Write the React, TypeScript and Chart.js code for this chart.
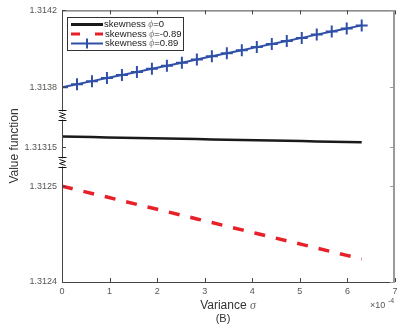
import React, { useEffect, useRef } from "react";
import { Chart, registerables } from "chart.js";

Chart.register(...registerables);

// Variance sigma (x 10^-4)
const X_VALUES = [0, 0.315, 0.63, 0.945, 1.26, 1.575, 1.89, 2.205, 2.52, 2.835, 3.15, 3.465, 3.78, 4.095, 4.41, 4.725, 5.04, 5.355, 5.67, 5.985, 6.3];

const SKEW_ZERO = [1.3131607, 1.3131604, 1.3131601, 1.3131598, 1.3131595, 1.3131593, 1.313159, 1.3131587, 1.3131584, 1.3131581, 1.3131578, 1.3131575, 1.3131572, 1.3131569, 1.3131566, 1.3131564, 1.3131561, 1.3131558, 1.3131555, 1.3131552, 1.313155];
const SKEW_NEG = [1.3125, 1.3124962, 1.3124924, 1.3124886, 1.3124848, 1.312481, 1.3124772, 1.3124734, 1.3124696, 1.3124658, 1.312462, 1.3124582, 1.3124544, 1.3124506, 1.3124468, 1.312443, 1.3124392, 1.3124354, 1.3124316, 1.3124278, 1.312424];
const SKEW_POS = [1.3138, 1.313816, 1.313832, 1.313848, 1.313864, 1.31388, 1.313896, 1.313912, 1.313928, 1.313945, 1.313961, 1.313977, 1.313993, 1.314009, 1.314025, 1.314041, 1.314057, 1.314074, 1.31409, 1.314106, 1.314122];

const Y_TICK_VALUES = [1.3124, 1.3125, 1.31315, 1.3138, 1.3142];
const Y_TICK_LABELS = ["1.3124", "1.3125", "1.31315", "1.3138", "1.3142"];
const X_TICKS = [0, 1, 2, 3, 4, 5, 6, 7];

// broken axis: piecewise mapping of value -> display units
function toDisplay(v: number): number {
  if (v >= 1.3137) return 195 + ((v - 1.3138) / 0.0004) * 77;
  if (v >= 1.3131) return 135 + ((v - 1.31315) / 0.00001) * 10;
  return ((v - 1.3124) / 0.0001) * 96;
}
const BREAKS = [120, 167];

const LEGEND = [
  { label: "=0", color: "#1a1a1a", kind: "solid" },
  { label: "=-0.89", color: "#e8202a", kind: "dash" },
  { label: "=0.89", color: "#3050a8", kind: "cross" },
];

const areaPlugin = {
  id: "area",
  afterLayout(chart: any) {
    const target = chart.width - 2;
    const xs = chart.scales.x;
    if (Math.abs(xs.right - target) > 0.1) {
      xs.right = target;
      xs.width = target - xs.left;
      xs.configure();
      chart.chartArea.right = target;
      chart.chartArea.width = target - chart.chartArea.left;
    }
  },
};

const decoPlugin = {
  id: "deco",
  afterDraw(chart: any) {
    const ctx = chart.ctx;
    const a = chart.chartArea;
    const xs = chart.scales.x;
    const ys = chart.scales.y;
    ctx.save();
    // box
    ctx.lineWidth = 1;
    ctx.strokeStyle = "#444";
    ctx.beginPath();
    ctx.moveTo(a.left + 0.5, a.bottom + 0.5);
    ctx.lineTo(a.left + 0.5, a.top + 0.5);
    ctx.lineTo(a.right, a.top + 0.5);
    ctx.moveTo(a.left, a.bottom + 0.5);
    ctx.lineTo(a.right, a.bottom + 0.5);
    ctx.stroke();
    ctx.strokeStyle = "#9a9a9a";
    ctx.lineWidth = 2;
    ctx.beginPath();
    ctx.moveTo(a.right - 1, a.top);
    ctx.lineTo(a.right - 1, a.bottom + 1);
    ctx.stroke();
    // ticks inward
    ctx.lineWidth = 1;
    ctx.strokeStyle = "#444";
    ctx.beginPath();
    X_TICKS.forEach((t) => {
      const px = Math.round(xs.getPixelForValue(t)) + 0.5;
      ctx.moveTo(px, a.bottom);
      ctx.lineTo(px, a.bottom - 4);
      ctx.moveTo(px, a.top);
      ctx.lineTo(px, a.top + 4);
    });
    Y_TICK_VALUES.forEach((v) => {
      const py = Math.round(ys.getPixelForValue(toDisplay(v))) + 0.5;
      ctx.moveTo(a.left, py);
      ctx.lineTo(a.left + 4, py);
    });
    ctx.stroke();
    ctx.strokeStyle = "#9a9a9a";
    ctx.beginPath();
    Y_TICK_VALUES.forEach((v) => {
      const py = Math.round(ys.getPixelForValue(toDisplay(v))) + 0.5;
      ctx.moveTo(a.right - 1, py);
      ctx.lineTo(a.right - 5, py);
    });
    ctx.stroke();
    // axis breaks
    ctx.strokeStyle = "#111";
    ctx.lineWidth = 1;
    BREAKS.forEach((d) => {
      const y = Math.round(ys.getPixelForValue(d)) + 0.5;
      const x = a.left + 0.5;
      ctx.fillStyle = "#fff";
      ctx.fillRect(x - 5, y - 4, 10, 8);
      ctx.beginPath();
      ctx.moveTo(x - 4, y - 5);
      ctx.lineTo(x + 4, y - 5);
      ctx.moveTo(x - 3, y - 3);
      ctx.lineTo(x + 3, y - 1);
      ctx.lineTo(x - 3, y + 1);
      ctx.lineTo(x + 3, y + 3);
      ctx.moveTo(x - 4, y + 5);
      ctx.lineTo(x + 4, y + 5);
      ctx.stroke();
    });
    // legend
    const lx = 67.5, ly = 17.5, lw = 116, lh = 33;
    ctx.fillStyle = "#fff";
    ctx.fillRect(lx, ly, lw, lh);
    ctx.strokeStyle = "#333";
    ctx.lineWidth = 1;
    ctx.strokeRect(lx, ly, lw, lh);
    LEGEND.forEach((e, i) => {
      const y = 24.5 + i * 9.5;
      ctx.strokeStyle = e.color;
      ctx.lineWidth = e.kind === "cross" ? 2 : 3;
      ctx.beginPath();
      if (e.kind === "dash") {
        ctx.moveTo(71, y);
        ctx.lineTo(80, y);
        ctx.moveTo(95, y);
        ctx.lineTo(103, y);
      } else {
        ctx.moveTo(71, y);
        ctx.lineTo(103, y);
      }
      if (e.kind === "cross") {
        ctx.moveTo(87, y - 5);
        ctx.lineTo(87, y + 5);
      }
      ctx.stroke();
      ctx.fillStyle = "#222";
      ctx.textBaseline = "middle";
      ctx.textAlign = "left";
      ctx.font = "9.5px 'Liberation Sans', Arial, sans-serif";
      const t1 = "skewness ";
      const tx = i === 0 ? 104 : 105;
      ctx.fillText(t1, tx, y);
      let w = ctx.measureText(t1).width;
      ctx.fillStyle = "#777";
      ctx.font = "italic 9.5px 'Liberation Serif', serif";
      ctx.fillText("ϕ", tx + w, y);
      w += ctx.measureText("ϕ").width;
      ctx.fillStyle = "#222";
      ctx.font = "9.5px 'Liberation Sans', Arial, sans-serif";
      ctx.fillText(e.label, tx + w, y);
    });
    // axis titles
    ctx.fillStyle = "#333";
    ctx.textBaseline = "middle";
    const t = "Variance ";
    ctx.font = "12px 'Liberation Sans', Arial, sans-serif";
    const w1 = ctx.measureText(t).width;
    ctx.font = "italic 12px 'Liberation Serif', serif";
    const w2 = ctx.measureText("σ").width;
    const sx = 228 - (w1 + w2) / 2;
    ctx.textAlign = "left";
    ctx.font = "12px 'Liberation Sans', Arial, sans-serif";
    ctx.fillText(t, sx, 306);
    ctx.fillStyle = "#666";
    ctx.font = "italic 12px 'Liberation Serif', serif";
    ctx.fillText("σ", sx + w1, 306);
    ctx.fillStyle = "#333";
    ctx.textAlign = "center";
    ctx.font = "11px 'Liberation Sans', Arial, sans-serif";
    ctx.fillText("(B)", 223, 319);
    // x10^-4
    ctx.fillStyle = "#555";
    ctx.textAlign = "left";
    ctx.font = "9px 'Liberation Sans', Arial, sans-serif";
    ctx.fillText("×10", 370, 306);
    ctx.font = "7px 'Liberation Sans', Arial, sans-serif";
    ctx.fillText("-4", 388, 301);
    // y title
    ctx.save();
    ctx.translate(15, 146);
    ctx.rotate(-Math.PI / 2);
    ctx.fillStyle = "#333";
    ctx.textAlign = "center";
    ctx.font = "12px 'Liberation Sans', Arial, sans-serif";
    ctx.fillText("Value function", 0, 0);
    ctx.restore();
    ctx.restore();
  },
};

export default function App() {
  const ref = useRef<HTMLCanvasElement | null>(null);
  useEffect(() => {
    document.body.style.margin = "0";
    const mk = (vals: number[]) => X_VALUES.map((x, i) => ({ x, y: toDisplay(vals[i]) }));
    const chart = new Chart(ref.current as HTMLCanvasElement, {
      type: "line",
      data: {
        datasets: [
          {
            label: "skewness ϕ=0",
            data: mk(SKEW_ZERO),
            borderColor: "#1a1a1a",
            borderWidth: 2.5,
            pointRadius: 0,
            tension: 0,
          },
          {
            label: "skewness ϕ=-0.89",
            data: mk(SKEW_NEG),
            borderColor: "#e8202a",
            borderWidth: 3.5,
            borderDash: [11, 11],
            pointRadius: 0,
            tension: 0,
          },
          {
            label: "skewness ϕ=0.89",
            data: mk(SKEW_POS),
            borderColor: "#3050a8",
            borderWidth: 2,
            pointStyle: "cross",
            pointRadius: 6,
            pointBorderWidth: 2,
            pointBorderColor: "#3050a8",
            pointBackgroundColor: "#3050a8",
            tension: 0,
          },
        ],
      },
      options: {
        responsive: false,
        animation: false,
        layout: { padding: { top: 10, right: 2, left: 0, bottom: 0 } },
        plugins: { legend: { display: false }, tooltip: { enabled: false } },
        scales: {
          x: {
            type: "linear",
            min: 0,
            max: 7,
            grid: { display: false, drawTicks: false },
            border: { display: false },
            ticks: {
              stepSize: 1,
              padding: 4,
              color: "#555",
              font: { size: 9, family: "'Liberation Sans', Arial, sans-serif" },
              callback: (v: any) => String(v),
              maxRotation: 0,
            },
            afterFit: (s: any) => {
              s.height = 43;
            },
          },
          y: {
            type: "linear",
            min: 0,
            max: 272,
            grid: { display: false, drawTicks: false },
            border: { display: false },
            afterBuildTicks: (s: any) => {
              s.ticks = Y_TICK_VALUES.map((v) => ({ value: toDisplay(v) }));
            },
            ticks: {
              padding: 5,
              color: "#555",
              font: { size: 9, family: "'Liberation Sans', Arial, sans-serif" },
              callback: (_v: any, i: number) => Y_TICK_LABELS[i],
            },
            afterFit: (s: any) => {
              s.width = 62;
            },
          },
        },
      },
      plugins: [areaPlugin, decoPlugin],
    } as any);
    return () => chart.destroy();
  }, []);
  return (
    <div style={{ position: "absolute", left: 0, top: 0, width: 397, height: 325, background: "#fff" }}>
      <canvas ref={ref} width={397} height={325} style={{ width: 397, height: 325 }} />
    </div>
  );
}
